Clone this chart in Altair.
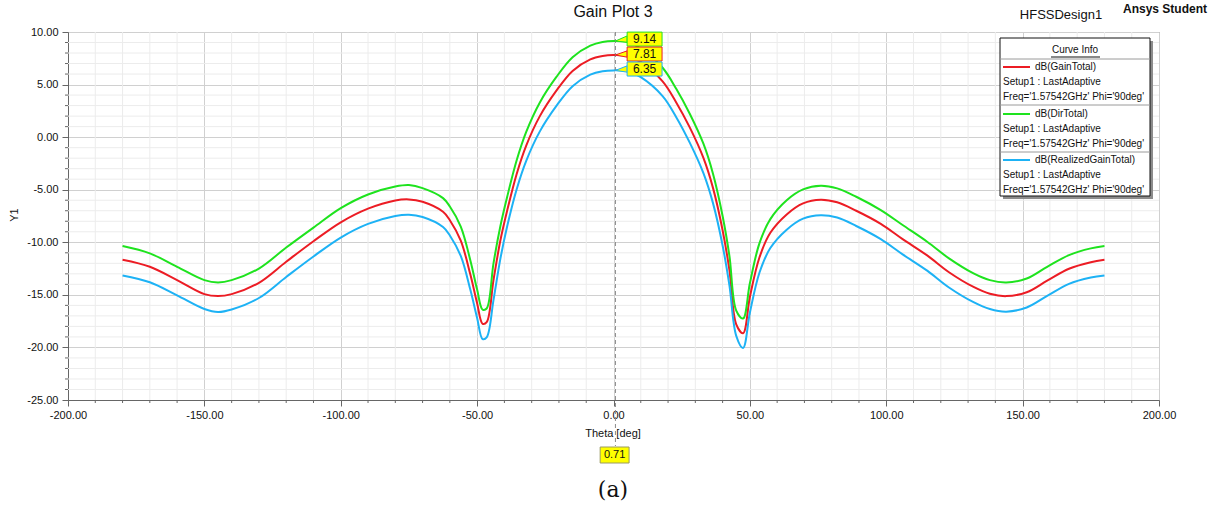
import altair as alt
import pandas as pd

# ---------------- data ----------------
theta = [-180, -170, -160, -150, -145, -140, -130, -120, -110, -100,
         -90, -80, -75, -70, -62.5, -60, -56, -52.5, -50, -48,
         -46.5, -44, -41.5, -39, -35.5, -32, -27, -21, -15, -8.5,
         -4, 0, 5, 10, 18, 23, 28, 33, 36.5, 40,
         42.5, 45, 47.5, 50, 53.5, 57.5, 63.5, 69.5, 76, 82,
         89, 98, 106, 115, 123, 132, 138, 144, 151.5, 159,
         167, 175, 180]

dir_total = [-10.36, -11.06, -12.33, -13.6, -13.82, -13.6, -12.5, -10.5, -8.6, -6.75,
             -5.45, -4.7, -4.56, -4.85, -5.8, -6.6, -8.5, -11.7, -14.5, -16.4,
             -16.3, -12.0, -8.5, -5.7, -2.2, 0.5, 3.3, 5.7, 7.6, 8.7,
             9.05, 9.14, 9.05, 8.45, 6.6, 4.6, 2.2, -0.65, -3.5, -7.5,
             -11.3, -16.5, -17.25, -13.9, -10.1, -7.8, -6.0, -4.97, -4.62, -4.87,
             -5.67, -6.94, -8.36, -9.95, -11.53, -12.96, -13.6, -13.82, -13.44, -12.33,
             -11.22, -10.58, -10.36]

gain_total = [-11.66, -12.33, -13.6, -14.93, -15.12, -14.93, -13.85, -11.85, -9.9, -8.1,
              -6.8, -6.02, -5.92, -6.15, -7.1, -7.9, -9.85, -13.05, -15.8, -17.75,
              -17.6, -13.6, -9.85, -7.0, -3.5, -0.8, 2.0, 4.4, 6.3, 7.4,
              7.72, 7.81, 7.72, 7.15, 5.3, 3.3, 0.9, -2.0, -4.85, -8.85,
              -12.65, -17.8, -18.65, -15.2, -11.45, -9.1, -7.35, -6.3, -5.95, -6.2,
              -7.0, -8.25, -9.7, -11.25, -12.85, -14.25, -14.9, -15.12, -14.75, -13.65,
              -12.52, -11.9, -11.66]

realized_gain = [-13.15, -13.8, -15.05, -16.35, -16.64, -16.4, -15.3, -13.3, -11.35, -9.55,
                 -8.25, -7.5, -7.38, -7.6, -8.55, -9.35, -11.3, -14.5, -17.2, -19.2,
                 -19.05, -15.5, -11.6, -8.5, -4.95, -2.25, 0.55, 2.95, 4.85, 5.95,
                 6.27, 6.35, 6.27, 5.7, 3.9, 1.9, -0.55, -3.45, -6.3, -10.3,
                 -14.1, -18.9, -20.05, -16.7, -12.9, -10.55, -8.8, -7.75, -7.42, -7.65,
                 -8.45, -9.7, -11.15, -12.7, -14.3, -15.7, -16.35, -16.6, -16.2, -15.1,
                 -13.95, -13.35, -13.15]

series_names = ["dB(GainTotal)", "dB(DirTotal)", "dB(RealizedGainTotal)"]
series_colors = ["#ec1c24", "#1ee31e", "#1db2f5"]

marker_theta = 0.71
marker_values = [9.14, 7.81, 6.35]          # DirTotal, GainTotal, RealizedGain
marker_labels = ["9.14", "7.81", "6.35"]
marker_colors = ["#1ee31e", "#ec1c24", "#1db2f5"]
marker_box_top = [9.99, 8.57, 7.15]
marker_box_bottom = [8.66, 7.24, 5.81]
marker_box_x = [5.0, 17.8]

x_major = list(range(-200, 201, 50))
x_minor = [v for v in range(-200, 201, 10) if v % 50 != 0]
y_major = list(range(-25, 11, 5))
y_minor = [v for v in range(-25, 11, 1) if v % 5 != 0]

FONT = "Liberation Sans"
W, H = 1091, 368
PAD_L, PAD_T = 68, 32
LABEL_EXPR = "replace(format(datum.value, '.2f'), '\u2212', '-')"

# ---------------- build table ----------------
rows = []
for name, vals in zip(series_names, [gain_total, dir_total, realized_gain]):
    for t, v in zip(theta, vals):
        rows.append({"theta": t, "value": v, "series": name})
df = pd.DataFrame(rows)

xscale = alt.Scale(domain=[-200, 200], nice=False, zero=False)
yscale = alt.Scale(domain=[-25, 10], nice=False, zero=False)

x_axis = alt.Axis(
    values=x_major, labelExpr=LABEL_EXPR, tickSize=6, grid=True, gridColor="#d0d0d0",
    title=None, domainColor="#666666", tickColor="#666666",
    labelFont=FONT, labelFontSize=11, labelColor="#111111", labelPadding=3,
    labelFlush=False, labelOverlap=False,
)
y_axis = alt.Axis(
    values=y_major, labelExpr=LABEL_EXPR, tickSize=6, grid=True, gridColor="#d0d0d0",
    title=None, domainColor="#666666", tickColor="#666666",
    labelFont=FONT, labelFontSize=11, labelColor="#111111", labelPadding=4,
    labelFlush=False, labelOverlap=False,
)

lines = alt.Chart(df).mark_line(strokeWidth=2, interpolate="catmull-rom").encode(
    x=alt.X("theta:Q", scale=xscale, axis=x_axis),
    y=alt.Y("value:Q", scale=yscale, axis=y_axis),
    color=alt.Color("series:N", scale=alt.Scale(domain=series_names, range=series_colors), legend=None),
    detail="series:N",
)

# minor grid + minor ticks (drawn from tick lists)
xm = pd.DataFrame({"t": x_minor})
ym = pd.DataFrame({"v": y_minor})
minor_grid_x = alt.Chart(xm).mark_rule(color="#ececec", strokeWidth=1).encode(
    x=alt.X("t:Q", scale=xscale), y=alt.value(0), y2=alt.value(H))
minor_grid_y = alt.Chart(ym).mark_rule(color="#ececec", strokeWidth=1).encode(
    y=alt.Y("v:Q", scale=yscale), x=alt.value(0), x2=alt.value(W))
minor_tick_x = alt.Chart(xm).mark_rule(color="#666666", strokeWidth=1).encode(
    x=alt.X("t:Q", scale=xscale), y=alt.value(H), y2=alt.value(H + 3))
minor_tick_y = alt.Chart(ym).mark_rule(color="#666666", strokeWidth=1).encode(
    y=alt.Y("v:Q", scale=yscale), x=alt.value(-3), x2=alt.value(0))

# dashed marker line at theta = 0.71
mline = alt.Chart(pd.DataFrame({"t": [marker_theta]})).mark_rule(
    color="#8a8a8a", strokeDash=[4, 3], strokeWidth=1
).encode(x=alt.X("t:Q", scale=xscale), y=alt.value(0), y2=alt.value(414))

layers = [minor_grid_x, minor_grid_y, lines, minor_tick_x, minor_tick_y, mline]

# marker pointers and boxes
for v, lab, col, top, bot in zip(marker_values, marker_labels, marker_colors,
                                 marker_box_top, marker_box_bottom):
    mid = (top + bot) / 2
    tri = pd.DataFrame({"t": [marker_theta, marker_box_x[0]],
                        "y": [v, mid + 0.3], "y2": [v, mid - 0.3]})
    layers.append(alt.Chart(tri).mark_area(fill="#ffff00", stroke=col, strokeWidth=1).encode(
        x=alt.X("t:Q", scale=xscale), y=alt.Y("y:Q", scale=yscale), y2="y2:Q"))
    box = pd.DataFrame({"x": [marker_box_x[0]], "x2": [marker_box_x[1]], "y": [top], "y2": [bot],
                        "xm": [(marker_box_x[0] + marker_box_x[1]) / 2], "ym": [mid], "lab": [lab]})
    layers.append(alt.Chart(box).mark_rect(fill="#ffff00", stroke=col, strokeWidth=1).encode(
        x=alt.X("x:Q", scale=xscale), x2="x2:Q",
        y=alt.Y("y:Q", scale=yscale), y2="y2:Q"))
    layers.append(alt.Chart(box).mark_text(font=FONT, fontSize=12, color="#111111").encode(
        x=alt.X("xm:Q", scale=xscale), y=alt.Y("ym:Q", scale=yscale), text="lab:N"))

# bottom marker value box
bbox = pd.DataFrame({"x": [marker_theta - 5.6], "x2": [marker_theta + 5.0], "xm": [marker_theta - 0.3],
                     "lab": [f"{marker_theta:.2f}"]})
layers.append(alt.Chart(bbox).mark_rect(fill="#ffff00", stroke="#9a9a60", strokeWidth=1).encode(
    x=alt.X("x:Q", scale=xscale), x2="x2:Q", y=alt.value(415), y2=alt.value(431)))
layers.append(alt.Chart(bbox).mark_text(font=FONT, fontSize=11, color="#111111").encode(
    x=alt.X("xm:Q", scale=xscale), y=alt.value(423), text="lab:N"))


def txt(s, x, y, size=11, align="center", weight="normal", font=FONT, angle=0, color="#111111"):
    kw = dict(font=font, fontSize=size, align=align, baseline="middle",
              fontWeight=weight, color=color)
    if angle:
        kw["angle"] = angle
    return alt.Chart(pd.DataFrame({"s": [s]})).mark_text(**kw).encode(
        x=alt.value(x), y=alt.value(y), text="s:N")


def rect(x1, x2, y1, y2, fill, stroke=None):
    kw = dict(fill=fill)
    if stroke:
        kw.update(stroke=stroke, strokeWidth=1)
    return alt.Chart(pd.DataFrame({"a": [0]})).mark_rect(**kw).encode(
        x=alt.value(x1), x2=alt.value(x2), y=alt.value(y1), y2=alt.value(y2))


def hrule(x1, x2, y, color, width=1):
    return alt.Chart(pd.DataFrame({"a": [0]})).mark_rule(color=color, strokeWidth=width).encode(
        x=alt.value(x1), x2=alt.value(x2), y=alt.value(y))


# titles / texts outside plot
layers.append(txt("Gain Plot 3", 613 - PAD_L, 12 - PAD_T, size=16))
layers.append(txt("HFSSDesign1", 1061 - PAD_L, 15 - PAD_T, size=13))
layers.append(txt("Ansys Student", 1165 - PAD_L, 9 - PAD_T, size=12, weight="bold"))
layers.append(txt("Theta [deg]", 613 - PAD_L, 434 - PAD_T, size=11))
layers.append(txt("Y1", 15 - PAD_L, 215 - PAD_T, size=11, angle=270))
layers.append(txt("(a)", 613 - PAD_L, 490 - PAD_T, size=22, font="DejaVu Serif"))

# legend box ("Curve Info")
lx1, lx2, ly1, ly2 = 1000 - PAD_L, 1150 - PAD_L, 38 - PAD_T, 196 - PAD_T
layers.append(rect(lx1 + 3, lx2 + 3, ly1 + 3, ly2 + 3, "#8c8c8c"))
layers.append(rect(lx1, lx2, ly1, ly2, "#ffffff", "#111111"))
layers.append(txt("Curve Info", 1075 - PAD_L, 50 - PAD_T, size=10))
layers.append(hrule(1051 - PAD_L, 1100 - PAD_L, 57 - PAD_T, "#111111"))

entry_y = [67, 114, 160]
sep_y = [59, 105, 152]
for sy in sep_y:
    layers.append(hrule(lx1, lx2, sy - PAD_T, "#9a9a9a"))
for name, col, ey in zip(series_names, series_colors, entry_y):
    layers.append(hrule(1003 - PAD_L, 1030 - PAD_L, ey - PAD_T, col, 2))
    layers.append(txt(name, 1035 - PAD_L, ey - PAD_T, size=10, align="left"))
    layers.append(txt("Setup1 : LastAdaptive", 1003 - PAD_L, ey + 15 - PAD_T, size=10, align="left"))
    layers.append(txt("Freq='1.57542GHz' Phi='90deg'", 1003 - PAD_L, ey + 30 - PAD_T, size=10, align="left"))

chart = alt.layer(*layers).properties(
    width=W, height=H,
    autosize=alt.AutoSizeParams(type="none"),
    padding={"left": PAD_L, "top": PAD_T, "right": 1218 - PAD_L - W, "bottom": 509 - PAD_T - H},
    background="#ffffff",
).configure_view(stroke="#777777", strokeWidth=1)

chart.save("out.html", embed_options={"renderer": "svg", "actions": False})
